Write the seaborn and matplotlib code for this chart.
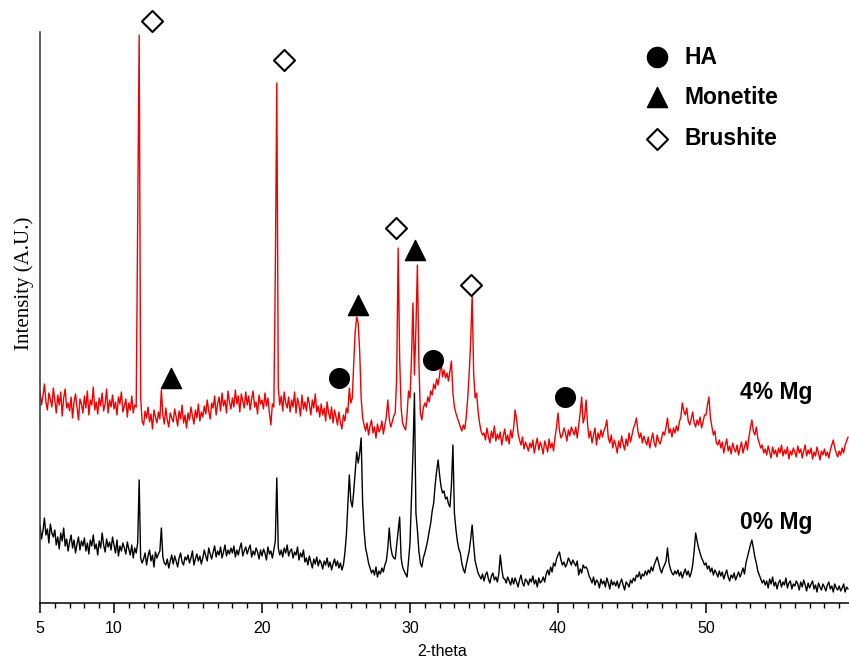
import numpy as np
import pandas as pd
import matplotlib
matplotlib.use("Agg")
import matplotlib.pyplot as plt
import seaborn as sns
from matplotlib.ticker import MultipleLocator, FixedLocator


# 2-theta sampled at 0.1 deg from 5.0 to 59.6 (one row per degree)
TWO_THETA = np.round(np.linspace(5.0, 59.6, 547), 1)

# intensity (A.U.), 4% Mg sample
MG4 = [
    212, 198, 207, 219, 201, 193, 210, 204, 196, 215,
    203, 190, 208, 198, 211, 187, 205, 214, 195, 200,
    192, 206, 185, 201, 209, 196, 183, 204, 199, 190,
    207, 195, 212, 188, 203, 198, 216, 193, 201, 189,
    205, 197, 210, 192, 199, 214, 190, 203, 196, 208,
    194, 201, 188, 206, 199, 211, 191, 197, 204, 186,
    200, 193, 207, 190, 198, 196, 380, 568, 205, 182,
    178, 192, 185, 196, 181, 189, 174, 193, 186, 180,
    191, 184, 213, 188, 179, 195, 183, 176, 190, 185,
    181, 194, 186, 177, 192, 184, 198, 180, 188, 175,
    190, 183, 196, 187, 179, 193, 185, 199, 182, 191,
    186, 197, 189, 203, 192, 184, 200, 195, 207, 188,
    199, 206, 192, 210, 197, 203, 190, 212, 201, 194,
    205, 196, 213, 199, 207, 191, 209, 202, 195, 211,
    198, 207, 193, 204, 212, 196, 201, 189, 208, 199,
    203, 194, 210, 197, 205, 190, 178, 199, 196, 330,
    520, 215, 198, 207, 192, 211, 200, 195, 206, 191,
    203, 196, 211, 190, 205, 198, 187, 208, 194, 201,
    192, 206, 199, 188, 203, 195, 209, 191, 197, 186,
    199, 188, 195, 182, 201, 190, 184, 196, 180, 193,
    186, 178, 191, 180, 174, 188, 182, 195, 190, 215,
    200, 205, 240, 272, 286, 280, 252, 205, 185, 178,
    172, 180, 168, 177, 183, 170, 176, 165, 179, 171,
    174, 182, 169, 178, 186, 203, 184, 176, 181, 187,
    190, 225, 355, 245, 195, 180, 176, 173, 188, 212,
    205, 245, 300, 228, 275, 338, 240, 190, 183, 195,
    200, 196, 206, 201, 212, 208, 219, 214, 224, 218,
    228, 241, 226, 233, 225, 230, 222, 232, 242, 210,
    196, 190, 185, 181, 176, 172, 178, 174, 186, 205,
    230, 262, 308, 230, 205, 210, 192, 180, 172, 168,
    170, 163, 175, 166, 160, 172, 165, 177, 162, 169,
    164, 171, 158, 167, 174, 162, 168, 159, 173, 165,
    175, 193, 184, 170, 163, 158, 166, 154, 161, 157,
    152, 160, 155, 163, 150, 158, 165, 153, 161, 156,
    149, 162, 157, 151, 164, 155, 160, 152, 166, 176,
    190, 172, 165, 168, 175, 170, 162, 173, 167, 176,
    172, 168, 176, 165, 178, 190, 206, 180, 186, 203,
    178, 165, 172, 160, 168, 175, 158, 170, 164, 173,
    166, 172, 176, 183, 165, 160, 168, 155, 163, 158,
    150, 162, 155, 167, 159, 153, 164, 157, 170, 161,
    168, 175, 179, 185, 172, 165, 170, 160, 167, 162,
    158, 166, 155, 163, 170, 160, 156, 168, 162, 159,
    165, 171, 168, 176, 185, 170, 174, 166, 175, 170,
    177, 172, 181, 186, 200, 192, 188, 195, 182, 178,
    184, 191, 180, 176, 183, 178, 186, 175, 181, 188,
    188, 198, 206, 185, 176, 168, 172, 160, 158, 163,
    155, 161, 150, 158, 164, 152, 157, 149, 160, 154,
    151, 158, 148, 155, 161, 150, 156, 162, 153, 166,
    175, 183, 172, 168, 176, 165, 160, 155, 158, 150,
    154, 148, 157, 151, 145, 156, 149, 153, 146, 155,
    150, 158, 147, 153, 149, 156, 144, 152, 148, 155,
    151, 146, 157, 150, 154, 145, 152, 158, 147, 153,
    149, 155, 144, 151, 147, 156, 150, 143, 152, 148,
    154, 147, 151, 145, 153, 158, 163, 155, 150, 146,
    152, 148, 155, 150, 158, 162, 166,
]

# intensity (A.U.), 0% Mg sample
MG0 = [
    78, 64, 72, 85, 68, 74, 60, 79, 70, 66,
    73, 58, 66, 54, 70, 62, 75, 57, 64, 52,
    61, 68, 55, 63, 50, 59, 66, 53, 62, 57,
    65, 52, 60, 49, 63, 57, 68, 54, 59, 48,
    62, 55, 70, 58, 51, 64, 56, 61, 53, 66,
    58, 50, 63, 47, 57, 52, 60, 55, 49, 61,
    54, 48, 58, 45, 55, 50, 60, 123, 45, 40,
    44, 50, 38, 47, 53, 42, 48, 36, 51, 45,
    49, 52, 75, 46, 40, 38, 44, 35, 42, 48,
    39, 47, 42, 36, 45, 50, 41, 38, 46, 43,
    48, 40, 45, 52, 38, 44, 49, 42, 47, 39,
    45, 53, 47, 42, 55, 49, 44, 51, 57, 46,
    52, 48, 56, 45, 51, 58, 47, 53, 49, 55,
    50, 57, 46, 53, 48, 55, 60, 47, 52, 56,
    49, 54, 58, 46, 52, 48, 55, 51, 44, 53,
    47, 54, 50, 43, 56, 49, 52, 45, 53, 62,
    125, 55, 48, 53, 46, 55, 50, 58, 47, 52,
    54, 45, 51, 48, 56, 43, 50, 46, 53, 41,
    45, 38, 47, 41, 35, 44, 39, 46, 37, 43,
    40, 34, 42, 38, 45, 36, 41, 33, 39, 44,
    37, 42, 35, 40, 33, 38, 50, 68, 98, 128,
    102, 96, 112, 132, 151, 140, 150, 165, 100, 72,
    55, 48, 40, 35, 30, 33, 28, 36, 26, 32,
    29, 35, 31, 38, 42, 55, 75, 56, 48, 45,
    44, 58, 72, 86, 45, 36, 32, 29, 26, 42,
    60, 106, 150, 210, 90, 73, 52, 40, 36, 45,
    50, 56, 63, 72, 80, 92, 100, 118, 132, 143,
    128, 116, 110, 112, 104, 106, 99, 96, 118, 158,
    90, 74, 62, 54, 50, 40, 34, 30, 38, 45,
    52, 64, 78, 58, 42, 36, 30, 27, 24, 29,
    22, 28, 31, 24, 20, 27, 30, 23, 26, 21,
    29, 48, 34, 25, 24, 20, 26, 22, 18, 25,
    19, 25, 21, 16, 23, 28, 20, 17, 24, 22,
    18, 24, 21, 27, 19, 23, 16, 25, 20, 22,
    26, 21, 29, 33, 28, 36, 31, 40, 37, 44,
    48, 51, 43, 38, 41, 36, 39, 45, 42, 38,
    43, 40, 37, 42, 28, 34, 30, 38, 35, 36,
    33, 27, 24, 20, 26, 18, 23, 21, 15, 24,
    19, 22, 16, 25, 20, 14, 23, 18, 21, 17,
    22, 15, 20, 24, 18, 13, 21, 19, 16, 23,
    20, 25, 22, 28, 26, 31, 24, 29, 27, 32,
    28, 33, 30, 36, 32, 38, 42, 46, 40, 34,
    30, 35, 38, 42, 55, 40, 34, 30, 28, 32,
    29, 33, 27, 31, 25, 30, 34, 28, 32, 26,
    30, 38, 52, 70, 62, 55, 50, 45, 42, 38,
    40, 34, 37, 31, 35, 28, 33, 30, 26, 32,
    27, 31, 24, 29, 33, 26, 22, 28, 25, 30,
    23, 27, 31, 26, 30, 35, 29, 40, 46, 52,
    58, 63, 55, 46, 40, 32, 28, 24, 20, 23,
    18, 22, 15, 24, 19, 26, 17, 21, 14, 20,
    23, 16, 21, 18, 25, 15, 20, 22, 14, 19,
    17, 22, 19, 13, 21, 16, 23, 18, 12, 20,
    15, 19, 22, 14, 18, 11, 20, 16, 13, 19,
    16, 12, 18, 21, 14, 17, 11, 19, 15, 13,
    17, 12, 15, 19, 11, 16, 14,
]

# phase markers placed above the 4% Mg peaks
HA_X = [25.2, 31.55, 40.45]
HA_Y = [225, 243, 206]
MONETITE_X = [13.85, 26.5, 30.35]
MONETITE_Y = [225, 298, 353]
BRUSHITE_X = [12.55, 21.5, 29.05, 34.1]
BRUSHITE_Y = [582, 543, 375, 318]

df = pd.DataFrame({"two_theta": TWO_THETA, "mg4": MG4, "mg0": MG0})

sns.set_style("white")
plt.rcParams["font.family"] = ["Liberation Sans", "DejaVu Sans"]
plt.rcParams["text.color"] = "black"
plt.rcParams["xtick.color"] = "black"

fig = plt.figure(figsize=(8.49, 6.64), dpi=100)
ax = fig.add_axes([40 / 849, 61 / 664, 809 / 849, 571 / 664])

sns.lineplot(data=df, x="two_theta", y="mg4", color="#f00000", lw=1.0, ax=ax)
sns.lineplot(data=df, x="two_theta", y="mg0", color="black", lw=1.0, ax=ax)

ax.scatter(HA_X, HA_Y, marker="o", s=200, color="black", clip_on=False, zorder=5)
ax.scatter(MONETITE_X, MONETITE_Y, marker="^", s=210, color="black",
           clip_on=False, zorder=5)
ax.scatter(BRUSHITE_X, BRUSHITE_Y, marker="D", s=115, facecolor="white",
           edgecolor="black", linewidth=1.5, clip_on=False, zorder=5)

# phase key, top right
key_y = [0.956, 0.886, 0.813]
ax.scatter([0.763], [key_y[0]], marker="o", s=210, color="black", transform=ax.transAxes)
ax.scatter([0.763], [key_y[1]], marker="^", s=210, color="black", transform=ax.transAxes)
ax.scatter([0.763], [key_y[2]], marker="D", s=115, facecolor="white",
           edgecolor="black", linewidth=1.5, transform=ax.transAxes)
for yy, name in zip(key_y, ["HA", "Monetite", "Brushite"]):
    ax.text(0.797, yy, name, transform=ax.transAxes, fontsize=16.5,
            fontweight="bold", va="center", ha="left", color="black")

fig.text(740 / 849, 1 - 393 / 664, "4% Mg", fontsize=16.5, fontweight="bold",
         va="center", ha="left", color="black")
fig.text(740 / 849, 1 - 523 / 664, "0% Mg", fontsize=16.5, fontweight="bold",
         va="center", ha="left", color="black")

ax.set_xlim(5, 5 + 809 / 14.8)
ax.set_ylim(0, 571)
ax.xaxis.set_major_locator(FixedLocator([5, 10, 20, 30, 40, 50]))
ax.xaxis.set_minor_locator(MultipleLocator(1))
ax.tick_params(axis="x", which="major", direction="out", length=7, width=1.1,
               labelsize=11.5, pad=6, bottom=True, colors="black")
ax.tick_params(axis="x", which="minor", direction="out", length=3.5, width=1.0,
               bottom=True, colors="black")
ax.set_yticks([])
ax.set_xlabel("")
ax.set_ylabel("")

sns.despine(ax=ax, top=True, right=True)
ax.spines["bottom"].set_linewidth(1.1)
ax.spines["bottom"].set_color("black")
ax.spines["left"].set_linewidth(1.1)
ax.spines["left"].set_color("#333333")

fig.text(442 / 849, 1 - 652 / 664, "2-theta", fontsize=11.5, ha="center",
         va="center", color="black")
fig.text(24 / 849, 1 - 283 / 664, "Intensity (A.U.)", fontsize=15,
         family=["Liberation Serif", "DejaVu Serif"], rotation=90,
         ha="center", va="center", color="black")

fig.savefig("out.png", dpi=100)
